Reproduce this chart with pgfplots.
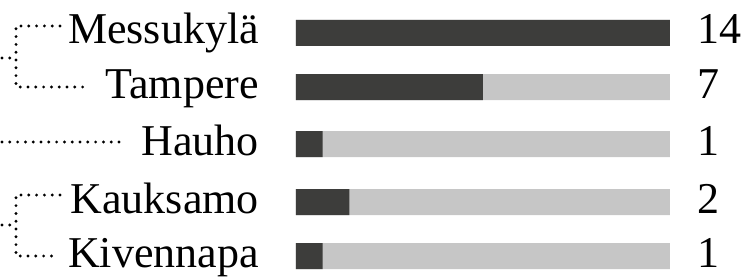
\documentclass[border=0pt]{standalone}
\usepackage{pgfplots}
\pgfplotsset{compat=1.18}
\usepackage{fontspec}
\setmainfont{Liberation Serif}
\definecolor{darkbar}{HTML}{3D3D3B}
\definecolor{lightbar}{HTML}{C6C6C6}
\tikzset{
  dend/.style={black, line width=3.2bp, dash pattern=on 0bp off 7.8bp, line cap=round},
  lbl/.style={font=\fontsize{44bp}{50bp}\selectfont, inner sep=0pt},
}
\begin{document}
\begin{tikzpicture}
\begin{axis}[
  width=745bp, height=278bp, scale only axis,
  hide axis, clip=false,
  xmin=-11.080, xmax=16.808,
  ymin=0, ymax=278, y dir=reverse,
]
% background bars (max = 14)
\addplot[xbar, bar width=26, bar shift=0, fill=lightbar, draw=none]
  coordinates {(14,33) (14,87) (14,144) (14,202) (14,256)};
% value bars
\addplot[xbar, bar width=26, bar shift=0, fill=darkbar, draw=none]
  coordinates {(14,33) (7,87) (1,144) (2,202) (1,256)};
% dendrogram
\addplot[dend] coordinates {(-8.834,26) (-10.481,26) (-10.481,87) (-7.749,87)};
\addplot[dend] coordinates {(-11.005,58) (-10.481,58)};
\addplot[dend] coordinates {(-11.005,142) (-6.401,142)};
\addplot[dend] coordinates {(-8.834,195) (-10.481,195) (-10.481,256) (-8.947,256)};
\addplot[dend] coordinates {(-11.005,225) (-10.481,225)};
% names
\node[lbl, anchor=base east] at (axis cs:-1.385,44) {Messukylä};
\node[lbl, anchor=base east] at (axis cs:-1.385,98) {Tampere};
\node[lbl, anchor=base east] at (axis cs:-1.385,155) {Hauho};
\node[lbl, anchor=base east] at (axis cs:-1.385,213) {Kauksamo};
\node[lbl, anchor=base east] at (axis cs:-1.385,267) {Kivennapa};
% values
\node[lbl, anchor=base west] at (axis cs:15.011,44) {14};
\node[lbl, anchor=base west] at (axis cs:15.011,98) {7};
\node[lbl, anchor=base west] at (axis cs:15.011,155) {1};
\node[lbl, anchor=base west] at (axis cs:15.011,213) {2};
\node[lbl, anchor=base west] at (axis cs:15.011,267) {1};
\end{axis}
\pgfresetboundingbox
\path[use as bounding box] (current axis.south west) rectangle (current axis.north east);
\end{tikzpicture}
\end{document}
